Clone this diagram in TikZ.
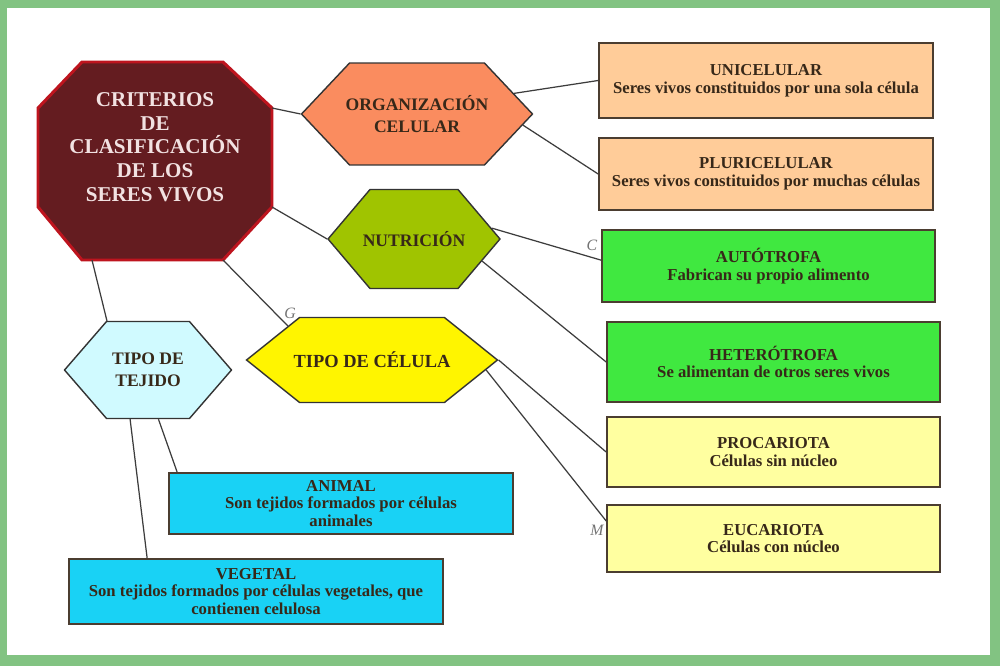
\documentclass[tikz,border=0pt]{standalone}
\usepackage{fontspec}
\setmainfont{Liberation Serif}
\usetikzlibrary{positioning,shapes.symbols}
\definecolor{FrameGreen}{RGB}{130,195,130}
\definecolor{OctFill}{RGB}{100,28,32}
\definecolor{OctLine}{RGB}{190,20,30}
\definecolor{OctText}{RGB}{242,226,226}
\definecolor{OrgaFill}{RGB}{250,140,95}
\definecolor{NutriFill}{RGB}{160,196,0}
\definecolor{CelulaFill}{RGB}{255,245,0}
\definecolor{TejidoFill}{RGB}{208,250,255}
\definecolor{PeachFill}{RGB}{255,204,153}
\definecolor{GreenFill}{RGB}{64,232,64}
\definecolor{PaleYellow}{RGB}{255,255,160}
\definecolor{CyanFill}{RGB}{25,210,245}
\definecolor{InkBrown}{RGB}{55,40,25}
\definecolor{EdgeGray}{RGB}{60,60,60}
\newcommand{\zw}[1]{\makebox[0pt]{#1}}

\begin{document}
\begin{tikzpicture}[x=0.02cm, y=-0.02cm,
  every node/.style={align=center, inner sep=0pt},
  hexa/.style={signal, signal to=east and west, draw=black!80, line width=0.8pt,
    text=InkBrown, font=\bfseries\fontsize{10}{12.5}\selectfont},
  infobox/.style={draw=InkBrown!90, line width=1pt, text=InkBrown,
    minimum width=6.66cm, font=\bfseries\fontsize{9.5}{10}\selectfont},
  link/.style={draw=EdgeGray, line width=0.7pt},
  scrawl/.style={text=black!55, font=\itshape\fontsize{9}{9}\selectfont}]
  % frame
  \useasboundingbox (0,0) rectangle (1000,666);
  \fill[FrameGreen] (0,0) rectangle (1000,666);
  \fill[white] (7,8) rectangle (990,655);

  % central criteria (octagon)
  \filldraw[fill=OctFill, draw=OctLine, line width=1.7pt, line join=miter]
    (82,62) -- (223,62) -- (272,108) coordinate (critA) -- (272,207) coordinate (critB)
    -- (223,260) coordinate (critC) -- (92,260) coordinate (critD) -- (82,260)
    -- (38,207) -- (38,108) -- cycle;
  \node[text=OctText, font=\bfseries\fontsize{12}{13.5}\selectfont] (crit) at (155,147)
    {CRITERIOS\\DE\\CLASIFICACIÓN\\DE LOS\\SERES VIVOS};

  % criteria hexagons
  \node[hexa, fill=OrgaFill, signal pointer angle=93.4, minimum width=4.62cm, minimum height=2.04cm]
    (orga) at (417,114) {\zw{ORGANIZACIÓN}\\\zw{CELULAR}};
  \node[hexa, fill=NutriFill, signal pointer angle=99.4, minimum width=3.44cm, minimum height=1.98cm]
    (nutri) at (414,239) {\zw{NUTRICIÓN}};
  \node[hexa, fill=CelulaFill, signal pointer angle=77.4, minimum width=5.02cm, minimum height=1.7cm,
    font=\bfseries\fontsize{10.5}{12.5}\selectfont] (celula) at (372,360) {\zw{TIPO DE CÉLULA}};
  \node[hexa, fill=TejidoFill, signal pointer angle=98.2, minimum width=3.34cm, minimum height=1.94cm]
    (tejido) at (148,370) {\zw{TIPO DE}\\\zw{TEJIDO}};

  % descriptions
  \node[infobox, fill=PeachFill, minimum width=6.68cm, minimum height=1.5cm] (uni) at (766,80.5)
    {UNICELULAR\\Seres vivos constituidos por una sola célula};
  \node[infobox, fill=PeachFill, minimum width=6.68cm, minimum height=1.44cm] (pluri) at (766,174)
    {PLURICELULAR\\Seres vivos constituidos por muchas células};
  \node[infobox, fill=GreenFill, minimum height=1.44cm] (auto) at (768.5,266)
    {AUTÓTROFA\\Fabrican su propio alimento};
  \node[infobox, fill=GreenFill, minimum height=1.6cm] (hetero) at (773.5,362)
    {HETERÓTROFA\\Se alimentan de otros seres vivos};
  \node[infobox, fill=PaleYellow, minimum height=1.4cm] (proc) at (773.5,452)
    {PROCARIOTA\\Células sin núcleo};
  \node[infobox, fill=PaleYellow, minimum height=1.34cm] (euc) at (773.5,538.5)
    {EUCARIOTA\\Células con núcleo};
  \node[infobox, fill=CyanFill, minimum width=6.88cm, minimum height=1.22cm] (animal) at (341,503.5)
    {ANIMAL\\Son tejidos formados por células\\animales};
  \node[infobox, fill=CyanFill, minimum width=7.48cm, minimum height=1.3cm] (vegetal) at (256,591.5)
    {VEGETAL\\Son tejidos formados por células vegetales, que\\contienen celulosa};

  % connectors
  \draw[link] (critA) -- (orga.west);
  \draw[link] (critB) -- (nutri.west);
  \draw[link] (critC) -- (celula.158);
  \draw[link] (critD) -- (tejido.130);
  \draw[link] (orga.12) -- (uni.west);
  \draw[link] (orga.-6) -- (pluri.west);
  \draw[link] (nutri.8) -- (auto.178);
  \draw[link] (nutri.-18) -- (hetero.west);
  \draw[link] (celula.east) -- (proc.west);
  \draw[link] (celula.-5) -- (euc.174);
  \draw[link] (tejido.-78) -- ([xshift=0.18cm]animal.north west);
  \draw[link] (tejido.-110) -- ([xshift=1.58cm]vegetal.north west);

  % stray marks
  \node[scrawl] (markc) at (592,245) {C};
  \node[scrawl] (markg) at (290,313) {G};
  \node[scrawl] (markm) at (597,530) {M};
\end{tikzpicture}
\end{document}
